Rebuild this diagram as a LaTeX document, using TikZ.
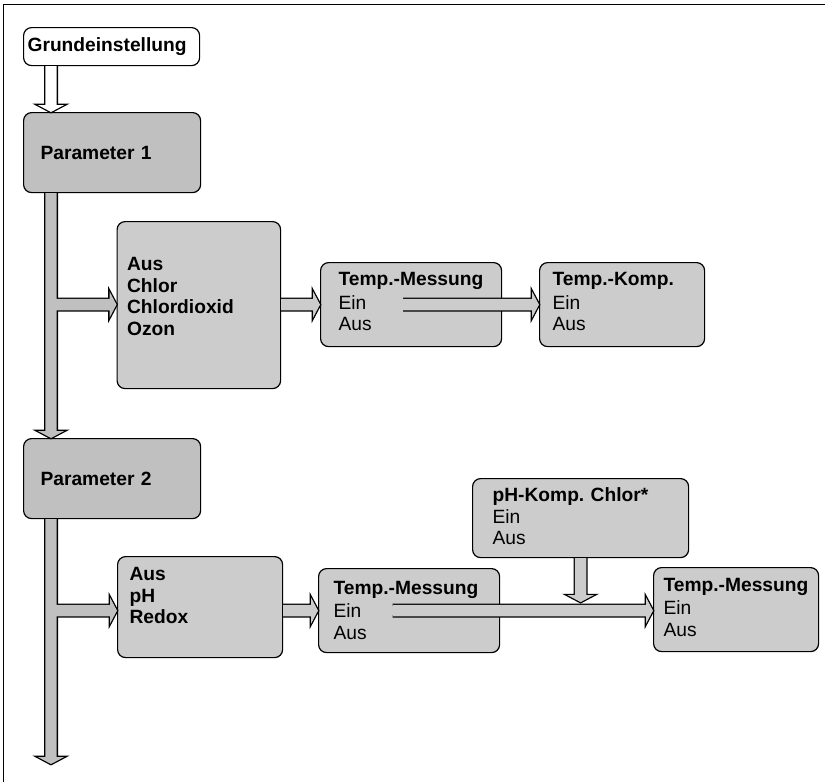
\documentclass[tikz,border=0pt]{standalone}
\usepackage{fontspec}
\setmainfont{Liberation Sans}
\usetikzlibrary{calc}
\exhyphenpenalty=10000
\hyphenpenalty=10000
\frenchspacing
\definecolor{boxgrey}{HTML}{CCCCCC}
\definecolor{pargrey}{HTML}{C0C0C0}
\tikzset{%
	box/.style      = {draw, line width=1.2pt, rounded corners=8pt, fill=boxgrey,
		anchor=north west, align=left, inner ysep=3pt,
		font=\fontsize{19.2}{21.5}\selectfont},
	parambox/.style = {box, fill=pargrey}, % Parameter
	pass outline/.style = {draw, line width=2.6pt},
	pass fill/.style    = {},
	blockarrow/.style = {to path={
		let \p1=(\tikztostart), \p2=(\tikztotarget),
		\n1={atan2(\y2-\y1,\x2-\x1)}, \n2={veclen(\x2-\x1,\y2-\y1)} in
		{[shift={(\p1)}, rotate=\n1]
			(0pt,-5.7pt) -- ({\n2*1pt-7pt},-5.7pt) -- ({\n2*1pt-7pt},-13.2pt)
			-- ({\n2*1pt},0pt) -- ({\n2*1pt-7pt},13.2pt) -- ({\n2*1pt-7pt},5.7pt)
			-- (0pt,5.7pt)}
	}}
}
\begin{document}
\begin{tikzpicture}[x=1pt,y=-1pt]
	\useasboundingbox (0,0) rectangle (825,782);
	\draw[line width=1.5pt] (3.5,782) -- (3.5,4.5) -- (825,4.5);
	
	\node[box, fill=white, minimum width=176pt, minimum height=38pt, inner xsep=4pt, text width=168pt] (g) at (23,27) {\textbf{Grundeinstellung}};
	\node[parambox, minimum width=177pt, minimum height=80pt, inner xsep=17pt, text width=143pt] (p1) at (23,112) {\textbf{Parameter 1}};
	\node[box, minimum width=163.5pt, minimum height=167pt, inner xsep=10pt, text width=143.5pt, text depth=82pt] (b1) at (116.5,221) {\textbf{Aus}\\\textbf{Chlor}\\\textbf{Chlordioxid}\\\textbf{Ozon}};
	\node[box, minimum width=181pt, minimum height=84pt, inner xsep=18pt, text width=145pt, text depth=51pt] (tm1) at (320,262) {\textbf{Temp.-Messung}\\[2pt]Ein\\Aus};
	\node[box, minimum width=165pt, minimum height=84pt, inner xsep=13pt, text width=139pt, text depth=51pt] (tk) at (539,262) {\textbf{Temp.-Komp.}\\[2pt]Ein\\Aus};
	
	\node[parambox, minimum width=177pt, minimum height=80pt, inner xsep=17pt, text width=143pt] (p2) at (23,438) {\textbf{Parameter 2}};
	\node[box, minimum width=165pt, minimum height=101pt, inner xsep=12pt, text width=141pt, text depth=66pt] (b2) at (117,556) {\textbf{Aus}\\\textbf{pH}\\\textbf{Redox}};
	\node[box, minimum width=216pt, minimum height=79pt, inner xsep=20pt, text width=176pt, text depth=47pt] (ph) at (472,478) {\textbf{pH-Komp. Chlor*}\\Ein\\Aus};
	\node[box, minimum width=181pt, minimum height=84pt, inner xsep=15pt, text width=151pt, text depth=46pt] (tm2) at (318,568) {\textbf{Temp.-Messung}\\[2pt]Ein\\Aus};
	\node[box, minimum width=165pt, minimum height=84pt, inner xsep=10pt, text width=145pt, text depth=50pt] (tm3) at (653,567) {\textbf{Temp.-Messung}\\[2pt]Ein\\Aus};
	
	\coordinate (axis) at (51,0);
	\coordinate (end) at (51,764);
	\coordinate (k1) at ([xshift=-8pt]tm1.center);
	\coordinate (k2) at ([xshift=-16.5pt]tm2.center);
	
	% outlines first, then the fills over them
	\foreach \pass in {outline,fill}{
		\path[pass \pass, fill=white] (axis |- g.south) to[blockarrow] (axis |- p1.north);
		\path[pass \pass, fill=pargrey] (axis |- tm1.west) to[blockarrow] (b1.west |- tm1.west);
		\path[pass \pass, fill=pargrey] (axis |- p1.south) to[blockarrow] (axis |- p2.north);
		\path[pass \pass, fill=boxgrey] (b1.east |- tm1.west) to[blockarrow] (tm1.west);
		\path[pass \pass, fill=boxgrey] (k1) to[blockarrow] (tk.west |- k1);
		\path[pass \pass, fill=pargrey] (axis |- tm2.west) to[blockarrow] (b2.west |- tm2.west);
		\path[pass \pass, fill=pargrey] (axis |- p2.south) to[blockarrow] (end);
		\path[pass \pass, fill=boxgrey] (b2.east |- tm2.west) to[blockarrow] (tm2.west);
		\path[pass \pass, fill=boxgrey] (ph.south) to[blockarrow] ($(ph.south |- k2)+(0,-8.5)$);
		\path[pass \pass, fill=boxgrey] (k2) to[blockarrow] (tm3.west |- k2);
	}
\end{tikzpicture}
\end{document}
